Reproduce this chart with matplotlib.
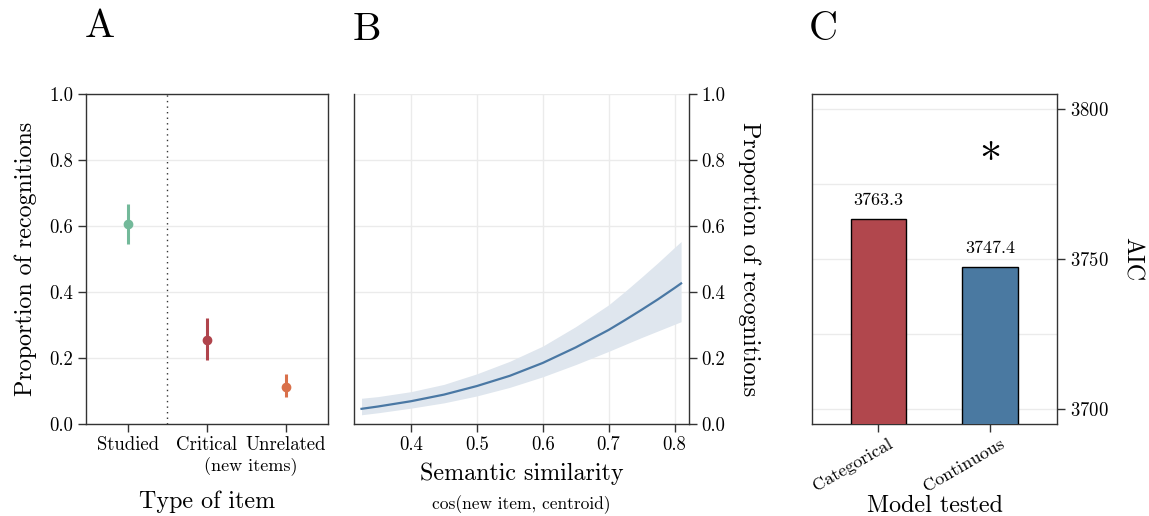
import numpy as np
import matplotlib
matplotlib.use("Agg")
import matplotlib.pyplot as plt
import matplotlib.transforms as mtransforms
from matplotlib.ticker import MultipleLocator

plt.rcParams['font.family'] = ['cmr10', 'DejaVu Serif']
plt.rcParams['axes.formatter.use_mathtext'] = True
plt.rcParams['mathtext.fontset'] = 'cm'

# Panel A: proportion of recognitions per item type
item_types = ["Studied", "Critical", "Unrelated"]
prop_mean = [0.607, 0.254, 0.113]
prop_low = [0.545, 0.195, 0.083]
prop_high = [0.667, 0.322, 0.153]
item_colors = ["#73b99a", "#b0444c", "#d9704a"]

# Panel B: predicted recognitions vs semantic similarity
sim_x = [0.325, 0.35, 0.40, 0.45, 0.50, 0.55, 0.60, 0.65, 0.70, 0.725, 0.75, 0.775, 0.80, 0.81]
sim_pred = [0.046, 0.053, 0.069, 0.089, 0.115, 0.146, 0.185, 0.232, 0.285, 0.315, 0.346, 0.378, 0.412, 0.426]
sim_low = [0.028, 0.034, 0.048, 0.064, 0.085, 0.111, 0.143, 0.180, 0.220, 0.241, 0.262, 0.282, 0.302, 0.310]
sim_high = [0.078, 0.083, 0.098, 0.120, 0.152, 0.190, 0.236, 0.295, 0.361, 0.402, 0.445, 0.489, 0.535, 0.553]

# Panel C: model comparison
models = ["Categorical", "Continuous"]
aic = [3763.3, 3747.4]
model_colors = ["#b1474d", "#4a79a1"]

spine_col = "#333333"
grid_col = "#ebebeb"

fig = plt.figure(figsize=(11.49, 5.16), dpi=100)
W, H = 1149, 516
def rect(l, r, t=94, b=424):
    return [l / W, 1 - b / H, (r - l) / W, (b - t) / H]

axA = fig.add_axes(rect(86, 328))
axB = fig.add_axes(rect(354, 689))
axC = fig.add_axes(rect(812, 1057))

# ---- A
xs = np.arange(len(item_types))
for i in range(len(item_types)):
    axA.plot([xs[i], xs[i]], [prop_low[i], prop_high[i]], color=item_colors[i], lw=2.2, solid_capstyle='butt', zorder=3)
    axA.plot(xs[i], prop_mean[i], 'o', color=item_colors[i], ms=6, zorder=4)
axA.axvline(0.5, color="#333333", ls=(0, (1, 3)), lw=1)
axA.set_xlim(-0.53, 2.53)
axA.set_ylim(0, 1)
axA.set_yticks(np.arange(0, 1.01, 0.2))
axA.set_yticklabels([f"{v:.1f}" for v in np.arange(0, 1.01, 0.2)])
axA.set_xticks(xs)
axA.set_xticklabels(item_types)
axA.yaxis.grid(True, color=grid_col, lw=1)
axA.set_axisbelow(True)
axA.text(1.55, -0.1, "(new items)", transform=axA.get_xaxis_transform(), ha='center', va='top', fontsize=13)
axA.set_xlabel("Type of item", fontsize=17.3, labelpad=26)
axA.set_ylabel("Proportion of recognitions", fontsize=17.3, labelpad=9)

# ---- B
axB.fill_between(sim_x, sim_low, sim_high, color="#dfe6ee", lw=0, zorder=2)
axB.plot(sim_x, sim_pred, color="#4a78a4", lw=1.6, zorder=3)
axB.set_xlim(0.3136, 0.822)
axB.set_ylim(0, 1)
axB.set_xticks([0.4, 0.5, 0.6, 0.7, 0.8])
axB.set_xticklabels(["0.4", "0.5", "0.6", "0.7", "0.8"])
axB.yaxis.tick_right()
axB.yaxis.set_label_position("right")
axB.set_yticks(np.arange(0, 1.01, 0.2))
axB.set_yticklabels([f"{v:.1f}" for v in np.arange(0, 1.01, 0.2)])
axB.grid(True, color=grid_col, lw=1)
axB.set_axisbelow(True)
axB.spines['top'].set_visible(False)
axB.set_xlabel("Semantic similarity", fontsize=17.3, labelpad=6)
axB.text(0.5, -0.215, "cos(new item, centroid)", transform=axB.transAxes, ha='center', va='top', fontsize=12.5)
axB.set_ylabel("Proportion of recognitions", fontsize=17.3, rotation=270, labelpad=25)

# ---- C
xc = np.arange(len(models))
bars = axC.bar(xc, aic, width=0.5, color=model_colors, edgecolor="black", lw=1, zorder=3)
for b, v in zip(bars, aic):
    axC.annotate(f"{v:.1f}", (b.get_x() + b.get_width() / 2, v), xytext=(0, 8), textcoords='offset points',
                 ha='center', va='bottom', fontsize=13)
axC.text(1, 3782, "*", ha='center', va='center', fontsize=32)
axC.set_xlim(-0.595, 1.6)
axC.set_ylim(3695, 3805)
axC.yaxis.set_major_locator(MultipleLocator(50))
axC.yaxis.set_minor_locator(MultipleLocator(25))
axC.yaxis.tick_right()
axC.yaxis.set_label_position("right")
axC.tick_params(axis='y', which='minor', length=0)
axC.grid(True, axis='y', which='both', color=grid_col, lw=1)
axC.set_axisbelow(True)
axC.set_xticks(xc)
axC.set_xlabel("Model tested", fontsize=17.3, va='center')
axC.xaxis.set_label_coords(0.5, -0.248)
axC.set_ylabel("AIC", fontsize=17.3, rotation=270, labelpad=25)

for ax in (axA, axB, axC):
    for s in ax.spines.values():
        s.set_color(spine_col)
        s.set_linewidth(1)
    ax.tick_params(which='major', length=6, width=1, color=spine_col, labelsize=13.5, pad=3)
axB.tick_params(axis='y', which='both', left=False)
axC.tick_params(axis='x', labelsize=13, pad=4)

# rotated labels, nudged right like the original (after tick_params so it sticks)
axC.set_xticklabels(models, rotation=30, ha='right', va='top', rotation_mode='anchor')
shift = mtransforms.ScaledTranslation(0.09, 0.02, fig.dpi_scale_trans)
for lab in axC.get_xticklabels():
    lab.set_transform(lab.get_transform() + shift)

fig.text(85 / W, 1 - 27 / H, "A", fontsize=29, va='center', ha='left')
fig.text(353 / W, 1 - 30 / H, "B", fontsize=29, va='center', ha='left')
fig.text(809 / W, 1 - 30 / H, "C", fontsize=29, va='center', ha='left')

fig.savefig("out.png", dpi=100)
